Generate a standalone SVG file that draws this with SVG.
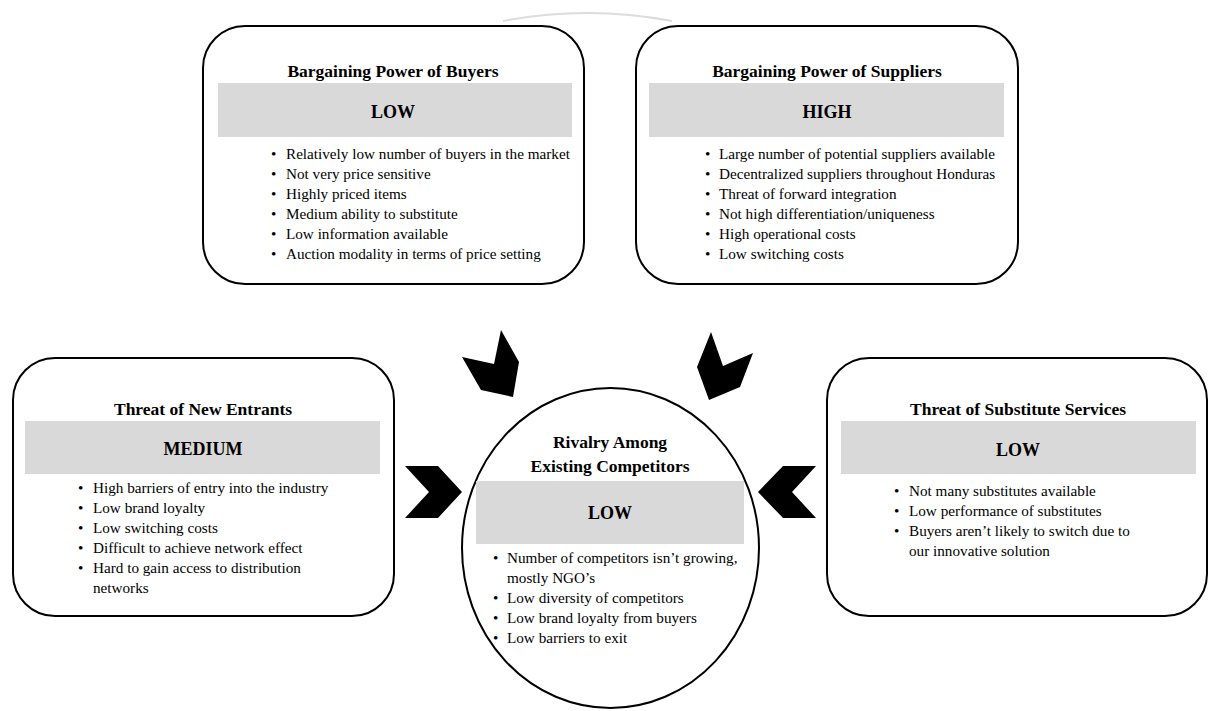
<svg xmlns="http://www.w3.org/2000/svg" width="1208" height="711" viewBox="0 0 1208 711">
  <style>
    .box { fill: #ffffff; stroke: #000000; stroke-width: 2; }
    .band { fill: #d9d9d9; }
    .title { font-family: "Liberation Serif", "Times New Roman", serif; font-weight: bold; font-size: 17.5px; fill: #000; text-anchor: middle; }
    .level { font-family: "Liberation Serif", "Times New Roman", serif; font-weight: bold; font-size: 18px; fill: #000; text-anchor: middle; }
    .item { font-family: "Liberation Serif", "Times New Roman", serif; font-size: 15.2px; fill: #000; }
    .chev { fill: #000000; }
  </style>

  <rect width="1208" height="711" fill="#ffffff"/>

  <!-- faint arc over the top boxes -->
  <path d="M503,21 Q587,5 672,21" fill="none" stroke="#dcdcdc" stroke-width="2"/>

  <!-- Bargaining power of buyers -->
  <g id="buyers">
    <rect class="box" x="203" y="26" width="381" height="258" rx="42" ry="42"/>
    <text class="title" x="393" y="77">Bargaining Power of Buyers</text>
    <rect class="band" x="218" y="83" width="354" height="54"/>
    <text class="level" x="393" y="118">LOW</text>
    <g class="item">
      <text x="271" y="159">•</text><text x="286" y="159">Relatively low number of buyers in the market</text>
      <text x="271" y="179">•</text><text x="286" y="179">Not very price sensitive</text>
      <text x="271" y="199">•</text><text x="286" y="199">Highly priced items</text>
      <text x="271" y="219">•</text><text x="286" y="219">Medium ability to substitute</text>
      <text x="271" y="239">•</text><text x="286" y="239">Low information available</text>
      <text x="271" y="259">•</text><text x="286" y="259">Auction modality in terms of price setting</text>
    </g>
  </g>

  <!-- Bargaining power of suppliers -->
  <g id="suppliers">
    <rect class="box" x="636" y="26" width="382" height="258" rx="42" ry="42"/>
    <text class="title" x="827" y="77">Bargaining Power of Suppliers</text>
    <rect class="band" x="649" y="83" width="355" height="54"/>
    <text class="level" x="827" y="118">HIGH</text>
    <g class="item">
      <text x="705" y="159">•</text><text x="719" y="159">Large number of potential suppliers available</text>
      <text x="705" y="179">•</text><text x="719" y="179">Decentralized suppliers throughout Honduras</text>
      <text x="705" y="199">•</text><text x="719" y="199">Threat of forward integration</text>
      <text x="705" y="219">•</text><text x="719" y="219">Not high differentiation/uniqueness</text>
      <text x="705" y="239">•</text><text x="719" y="239">High operational costs</text>
      <text x="705" y="259">•</text><text x="719" y="259">Low switching costs</text>
    </g>
  </g>

  <!-- Threat of new entrants -->
  <g id="new-entrants">
    <rect class="box" x="13" y="358" width="381" height="258" rx="42" ry="42"/>
    <text class="title" x="203" y="415">Threat of New Entrants</text>
    <rect class="band" x="25" y="421" width="355" height="53"/>
    <text class="level" x="203" y="455">MEDIUM</text>
    <g class="item">
      <text x="78" y="493">•</text><text x="93" y="493">High barriers of entry into the industry</text>
      <text x="78" y="513">•</text><text x="93" y="513">Low brand loyalty</text>
      <text x="78" y="533">•</text><text x="93" y="533">Low switching costs</text>
      <text x="78" y="553">•</text><text x="93" y="553">Difficult to achieve network effect</text>
      <text x="78" y="573">•</text><text x="93" y="573">Hard to gain access to distribution</text>
      <text x="93" y="593">networks</text>
    </g>
  </g>

  <!-- Threat of substitute services -->
  <g id="substitutes">
    <rect class="box" x="827" y="358" width="380" height="258" rx="42" ry="42"/>
    <text class="title" x="1018" y="415">Threat of Substitute Services</text>
    <rect class="band" x="841" y="421" width="355" height="53"/>
    <text class="level" x="1018" y="456">LOW</text>
    <g class="item">
      <text x="894" y="496">•</text><text x="909" y="496">Not many substitutes available</text>
      <text x="894" y="516">•</text><text x="909" y="516">Low performance of substitutes</text>
      <text x="894" y="536">•</text><text x="909" y="536">Buyers aren’t likely to switch due to</text>
      <text x="909" y="556">our innovative solution</text>
    </g>
  </g>

  <!-- Rivalry among existing competitors -->
  <g id="rivalry">
    <ellipse class="box" cx="610.5" cy="548" rx="148.5" ry="160"/>
    <text class="title" x="610" y="448">Rivalry Among</text>
    <text class="title" x="610" y="472">Existing Competitors</text>
    <rect class="band" x="476" y="481" width="268" height="63"/>
    <text class="level" x="610" y="519">LOW</text>
    <g class="item">
      <text x="493" y="563">•</text><text x="507" y="563">Number of competitors isn’t growing,</text>
      <text x="507" y="583">mostly NGO’s</text>
      <text x="493" y="603">•</text><text x="507" y="603">Low diversity of competitors</text>
      <text x="493" y="623">•</text><text x="507" y="623">Low brand loyalty from buyers</text>
      <text x="493" y="643">•</text><text x="507" y="643">Low barriers to exit</text>
    </g>
  </g>

  <!-- chevrons pointing at the centre -->
  <g id="connectors">
    <polygon class="chev" points="501,330 519,362 513,397 481,390 462,357 494,364"/>
    <polygon class="chev" points="711,332 723,366 753,353 740,387 709,400 697,367"/>
    <polygon class="chev" points="405,466 438,466 462,492 438,518 405,518 429,492"/>
    <polygon class="chev" points="816,466 783,466 758,492 783,518 816,518 792,492"/>
  </g>
</svg>
